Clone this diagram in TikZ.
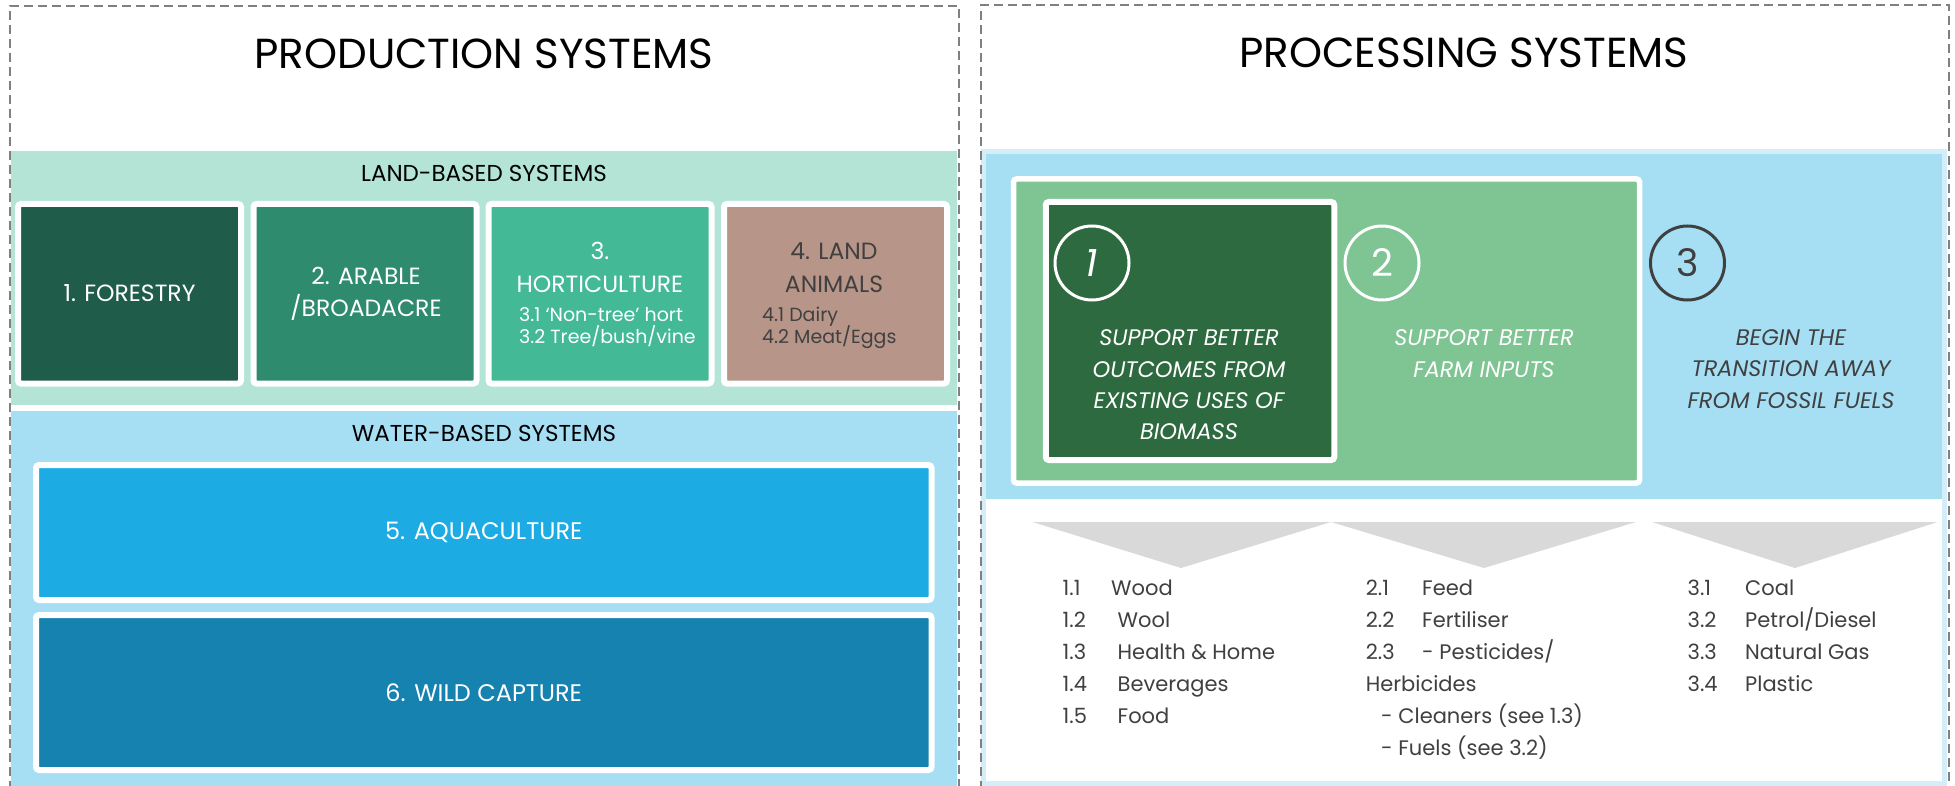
\documentclass[tikz,border=0pt]{standalone}
\usepackage{fontspec}
\setmainfont{Poppins}
\definecolor{mint}{HTML}{B3E4D6}
\definecolor{wblue}{HTML}{A6DEF4}
\definecolor{pale}{HTML}{D3EEF9}
\definecolor{cforest}{HTML}{1F5C4A}
\definecolor{carable}{HTML}{2F8B6E}
\definecolor{chort}{HTML}{43BA95}
\definecolor{canim}{HTML}{B79589}
\definecolor{caqua}{HTML}{1DABE3}
\definecolor{cwild}{HTML}{1582B0}
\definecolor{cgreen}{HTML}{7FC493}
\definecolor{cdark}{HTML}{2E6A40}
\definecolor{tri}{HTML}{D9D9D9}
\definecolor{dgray}{HTML}{404040}
\definecolor{frame}{HTML}{808080}
\newcommand\fsz[2]{\fontsize{#1}{#2}\selectfont}
\begin{document}
\begin{tikzpicture}[x=1pt,y=-1pt,
  title/.style={inner sep=0pt, text=black, font=\fsz{42}{48}},
  section/.style={inner sep=0pt, text=black, font=\fsz{23}{28}},
  tile/.style={draw=white, line width=6pt, rounded corners=3pt, inner sep=0pt, minimum width=223pt, minimum height=179.5pt},
  tiletext/.style={inner sep=0pt, align=center, font=\fsz{23.5}{32}},
  sub/.style={inner sep=0pt, anchor=base west, font=\fsz{19}{22}},
  wide/.style={draw=white, line width=6pt, rounded corners=3pt, inner sep=0pt, minimum width=895.5pt, text=white, font=\fsz{24}{30}},
  num/.style={circle, line width=3pt, minimum size=74pt, inner sep=0pt, font=\fsz{38}{40}},
  goal/.style={inner sep=0pt, align=center, font=\fsz{22.5}{31.3}\itshape},
  item/.style={inner sep=0pt, anchor=base west, text=dgray, font=\fsz{21}{24}},
  dashframe/.style={draw=frame, line width=1.8pt, dash pattern=on 9pt off 5pt}
]
\useasboundingbox (0,0) rectangle (1955,786);
% ---------------- left panel backgrounds
\fill[mint] (11,151) rectangle (957,405);
\fill[wblue] (11,411) rectangle (957,786);
% ---------------- right panel backgrounds
\fill[pale] (981,149) rectangle (1947,786);
\fill[white] (986,154) rectangle (1942,781);
\fill[wblue] (986,154) rectangle (1942,499);
% ---------------- titles
\node[title] (ptitle) at (484,54) {PRODUCTION SYSTEMS};
\node[title] (qtitle) at (1464,53) {PROCESSING SYSTEMS};
\node[section] (land) at (484,173.5) {LAND-BASED SYSTEMS};
\node[section] (water) at (484,433) {WATER-BASED SYSTEMS};
% ---------------- land tiles
\node[tile, fill=cforest] (t1) at (129.5,293.75) {};
\node[tile, fill=carable] (t2) at (365,293.75) {};
\node[tile, fill=chort]   (t3) at (600,293.75) {};
\node[tile, fill=canim]   (t4) at (835.5,293.75) {};
\node[tiletext, text=white] (t1t) at (129.5,293) {1. FORESTRY};
\node[tiletext, text=white] (t2t) at (366,293.5) {2. ARABLE\\/BROADACRE};
\node[tiletext, text=white, font=\fsz{23.5}{33}] (t3t) at (600,267) {3.\\HORTICULTURE};
\node[sub, text=white] (t3a) at (519,322) {3.1 ‘Non-tree’ hort};
\node[sub, text=white] (t3b) at (519,344) {3.2 Tree/bush/vine};
\node[tiletext, text=dgray, font=\fsz{23.5}{33}] (t4t) at (834,267.5) {4. LAND\\ANIMALS};
\node[sub, text=dgray] (t4a) at (762,322) {4.1 Dairy};
\node[sub, text=dgray] (t4b) at (762,344) {4.2 Meat/Eggs};
% ---------------- water tiles
\node[wide, fill=caqua, minimum height=135pt] (aqua) at (483.75,532.5) {5. AQUACULTURE};
\node[wide, fill=cwild, minimum height=155pt] (wild) at (483.75,692.5) {6. WILD CAPTURE};
% ---------------- processing boxes
\node[draw=white, line width=5.5pt, rounded corners=3pt, fill=cgreen, minimum width=626pt, minimum height=304pt, inner sep=0pt] (g2) at (1326.5,331) {};
\node[draw=white, line width=6pt, rounded corners=3pt, fill=cdark, minimum width=288.5pt, minimum height=258pt, inner sep=0pt] (g1) at (1190,331) {};
\node[num, draw=white, text=white] (n1) at (1092,263) {\itshape 1};
\node[num, draw=white, text=white] (n2) at (1382,263) {2};
\node[num, draw=dgray, text=dgray] (n3) at (1687.5,263) {3};
\node[goal, text=white] (g1t) at (1189,385) {SUPPORT BETTER\\OUTCOMES FROM\\EXISTING USES OF\\BIOMASS};
\node[goal, text=white] (g2t) at (1484,353.5) {SUPPORT BETTER\\FARM INPUTS};
\node[goal, text=dgray] (g3t) at (1791,369) {BEGIN THE\\TRANSITION AWAY\\FROM FOSSIL FUELS};
% ---------------- chevrons
\fill[tri] (1032.5,522) -- (1331,522) -- (1181,568) -- cycle;
\fill[tri] (1331,522) -- (1636,522) -- (1484,568) -- cycle;
\fill[tri] (1652,522) -- (1937.5,522) -- (1795,568) -- cycle;
% ---------------- lists
\node[item] (i11) at (1062.5,595.5) {\makebox[48.5pt][l]{1.1}Wood};
\node[item] (i12) at (1062.5,627.5) {\makebox[55pt][l]{1.2}Wool};
\node[item] (i13) at (1062.5,659.5) {\makebox[55pt][l]{1.3}Health \& Home};
\node[item] (i14) at (1062.5,691.5) {\makebox[55pt][l]{1.4}Beverages};
\node[item] (i15) at (1062.5,723.5) {\makebox[55pt][l]{1.5}Food};
\node[item] (i21) at (1365.6,595.5) {\makebox[56.4pt][l]{2.1}Feed};
\node[item] (i22) at (1365.6,627.5) {\makebox[56.4pt][l]{2.2}Fertiliser};
\node[item] (i23) at (1365.6,659.5) {\makebox[56.4pt][l]{2.3}- Pesticides/};
\node[item] (i24) at (1365.6,691.5) {Herbicides};
\node[item] (i25) at (1381,723.5) {- Cleaners (see 1.3)};
\node[item] (i26) at (1381,755.5) {- Fuels (see 3.2)};
\node[item] (i31) at (1687.5,595.5) {\makebox[57.5pt][l]{3.1}Coal};
\node[item] (i32) at (1687.5,627.5) {\makebox[57.5pt][l]{3.2}Petrol/Diesel};
\node[item] (i33) at (1687.5,659.5) {\makebox[57.5pt][l]{3.3}Natural Gas};
\node[item] (i34) at (1687.5,691.5) {\makebox[57.5pt][l]{3.4}Plastic};
% ---------------- dashed frames
\draw[dashframe] (10,790) -- (10,6) -- (959,6) -- (959,790);
\draw[dashframe] (981,790) -- (981,5) -- (1949,5) -- (1949,790);
\end{tikzpicture}
\end{document}
